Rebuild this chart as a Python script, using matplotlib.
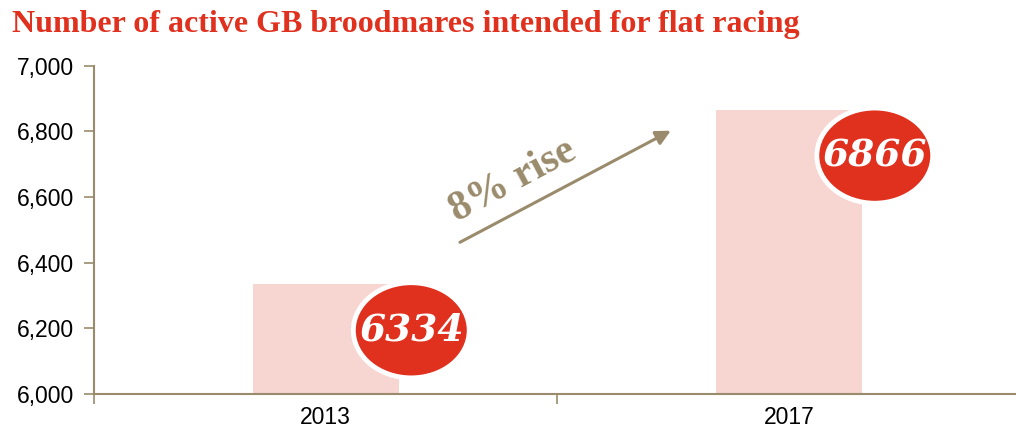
import matplotlib.pyplot as plt
from matplotlib.patches import Ellipse
from matplotlib.ticker import FixedLocator, FuncFormatter

years = ['2013', '2017']
mares = [6334, 6866]
rise_label = '8% rise'

red = '#E0301E'
pink = '#F7D5D1'
taupe = '#9A8B6C'

fig = plt.figure(figsize=(10.16, 4.32), dpi=100)
ax = fig.add_axes([0.0923, 0.088, 0.9124, 0.760])

x = range(len(years))
ax.bar(x, [v - 6000 for v in mares], bottom=6000, width=0.315, color=pink, zorder=1)

ax.set_xlim(-0.5, len(years) - 0.5)
ax.set_ylim(6000, 7000)
ax.set_yticks(range(6000, 7001, 200))
ax.yaxis.set_major_formatter(FuncFormatter(lambda v, p: f'{int(v):,}'))
ax.set_xticks(list(x))
ax.set_xticklabels(years)
ax.xaxis.set_minor_locator(FixedLocator([-0.5, 0.5]))

for s in ['top', 'right']:
    ax.spines[s].set_visible(False)
for s in ['left', 'bottom']:
    ax.spines[s].set_color(taupe)
    ax.spines[s].set_linewidth(1.5)

ax.tick_params(axis='y', colors=taupe, labelcolor='black', labelsize=16.5,
               length=7, width=1.2, pad=7)
ax.tick_params(axis='x', which='major', length=0, labelsize=16.5, labelcolor='black', pad=9)
ax.tick_params(axis='x', which='minor', length=7, width=1.2, color=taupe)
for lbl in ax.get_xticklabels() + ax.get_yticklabels():
    lbl.set_fontfamily('Liberation Sans')

# value bubbles
for i, v in enumerate(mares):
    cx = i + 0.185
    cy = v - 140
    ax.add_patch(Ellipse((cx, cy), 0.25, 290, facecolor=red, edgecolor='white',
                         linewidth=3.5, zorder=3, clip_on=False))
    ax.text(cx, cy, str(v), ha='center', va='center', color='white',
            fontsize=27, fontweight='bold', fontstyle='italic',
            family='DejaVu Serif', zorder=4)

# rise arrow
ax.annotate('', xy=(0.745, 6802), xytext=(0.29, 6462),
            arrowprops=dict(arrowstyle='-|>', color=taupe, lw=2.2,
                            mutation_scale=22, shrinkA=0, shrinkB=0))
ax.text(0.405, 6650, rise_label, rotation=28, ha='center', va='center',
        rotation_mode='anchor', color=taupe, fontsize=30, fontweight='bold',
        family='Liberation Serif')

fig.text(0.012, 0.925, 'Number of active GB broodmares intended for flat racing',
         color=red, fontsize=23, fontweight='bold', family='Liberation Serif',
         ha='left', va='baseline')

fig.savefig('out.png', dpi=100)
